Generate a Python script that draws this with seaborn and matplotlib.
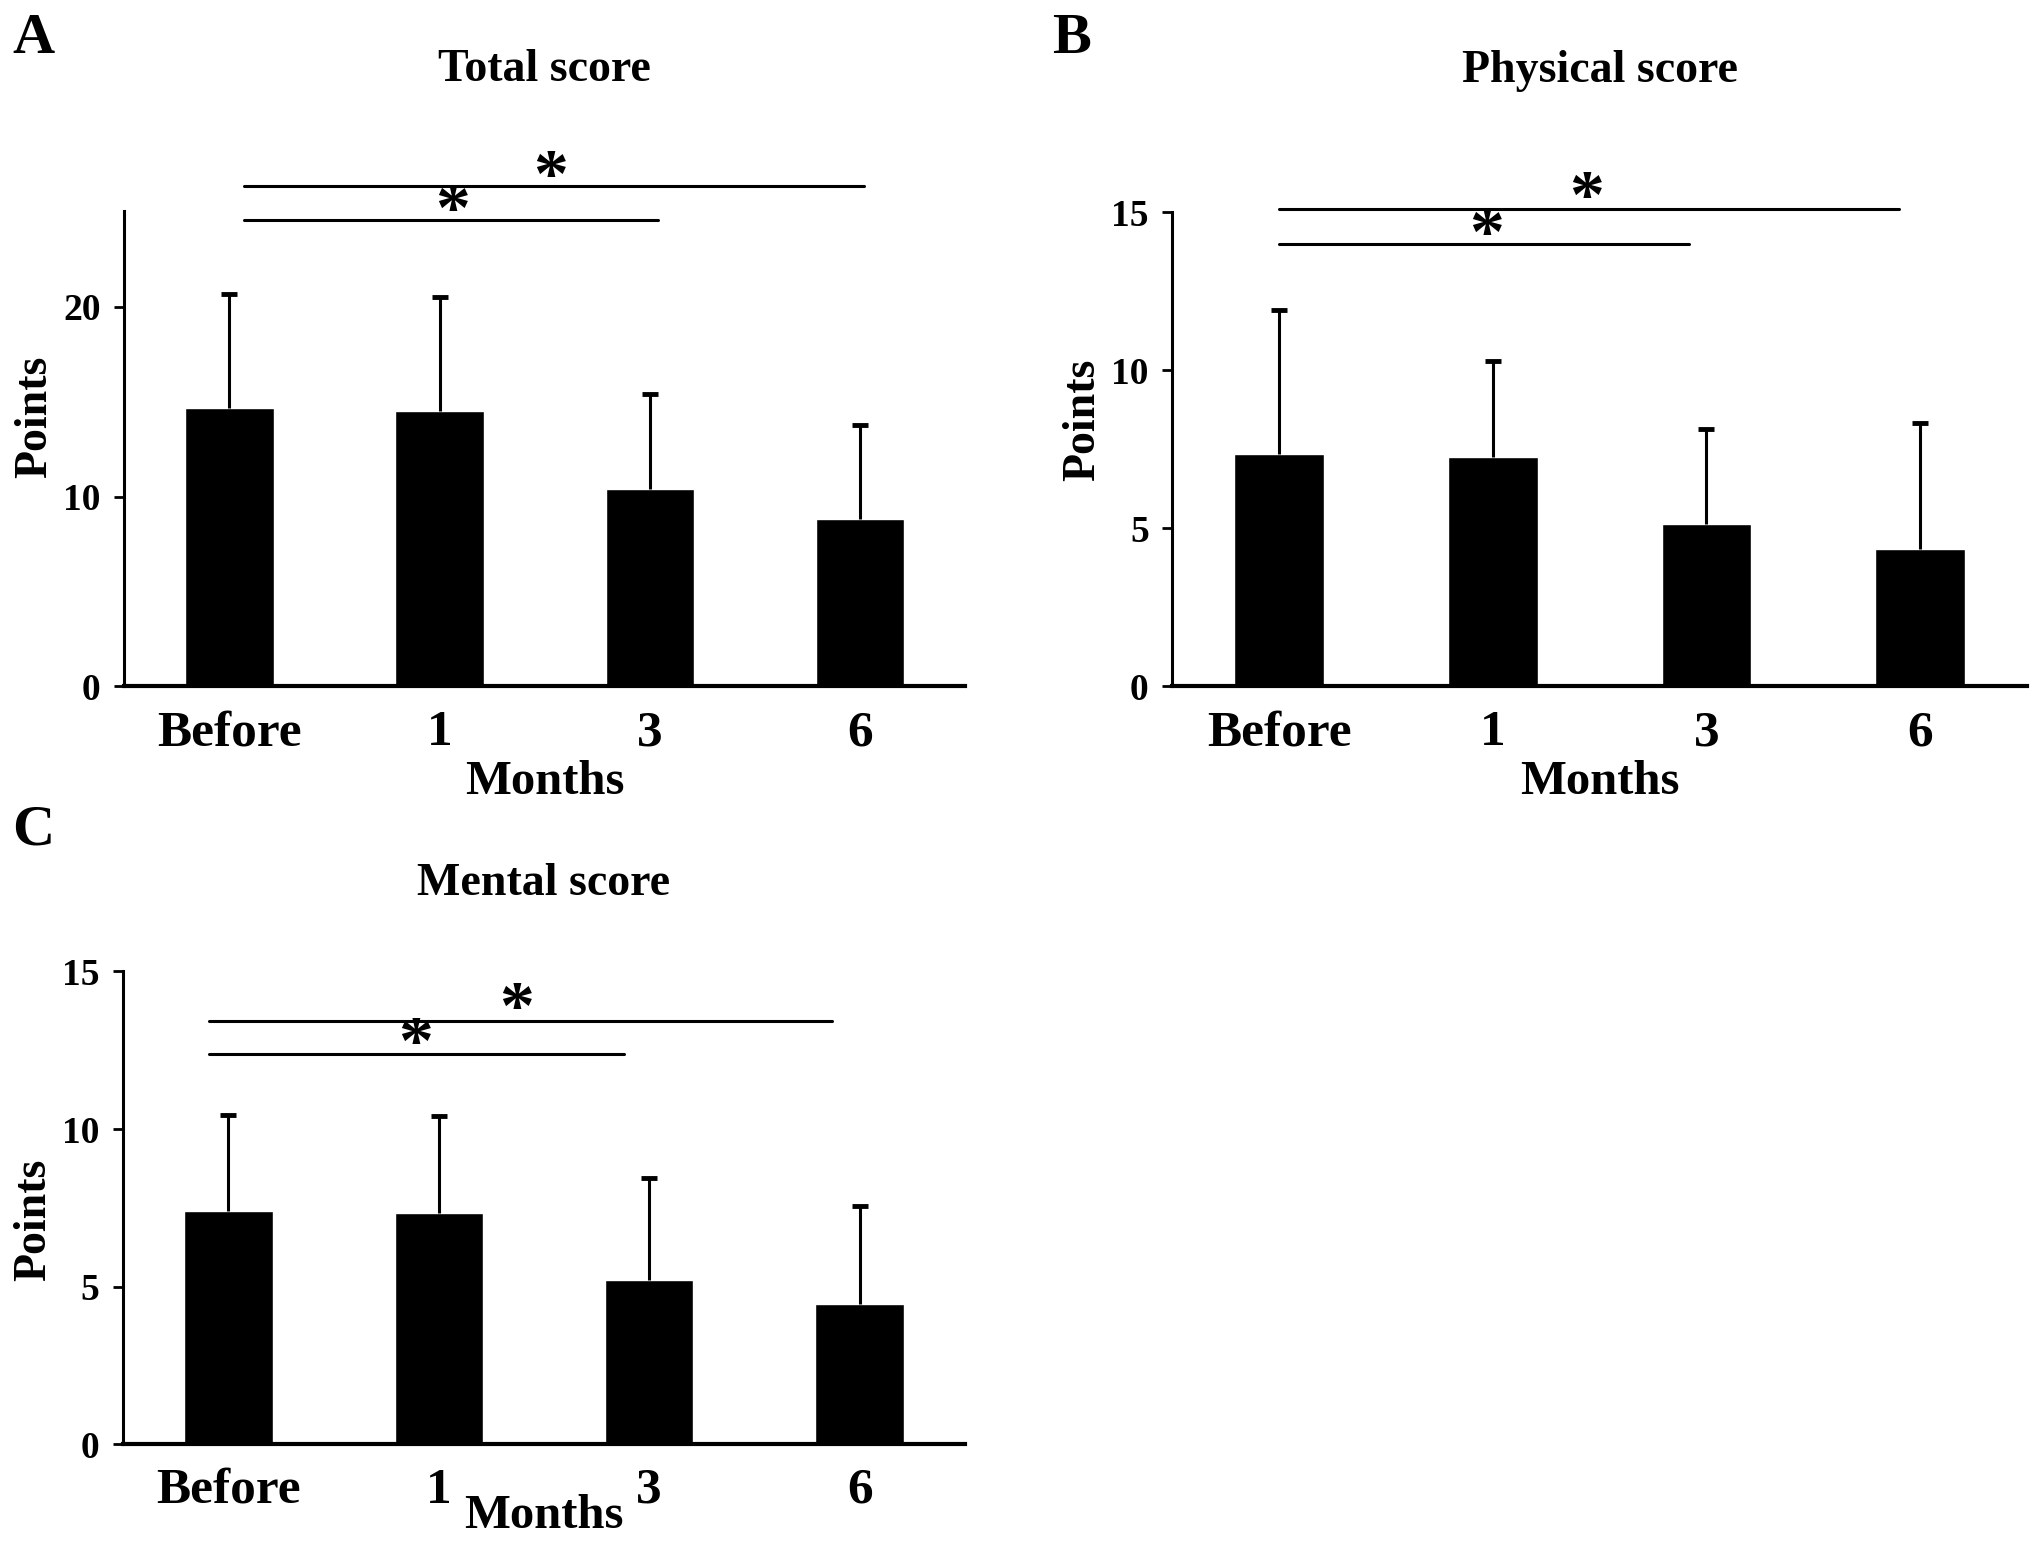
import numpy as np
import pandas as pd
import matplotlib.pyplot as plt
import seaborn as sns

# data (mean and upper SD)
months = ["Before", "1", "3", "6"]

total_mean = [14.7, 14.5, 10.4, 8.8]
total_sd = [6.0, 6.0, 5.0, 5.0]

physical_mean = [7.35, 7.25, 5.15, 4.35]
physical_sd = [4.55, 3.05, 3.0, 4.0]

mental_mean = [7.4, 7.35, 5.2, 4.45]
mental_sd = [3.05, 3.05, 3.25, 3.1]

titles = ["Total score", "Physical score", "Mental score"]
panel_letters = ["A", "B", "C"]
y_ticks = [[0, 10, 20], [0, 5, 10, 15], [0, 5, 10, 15]]

sns.set_style("white", {"axes.edgecolor": "black", "text.color": "black",
                        "axes.labelcolor": "black", "xtick.color": "black",
                        "ytick.color": "black"})
plt.rcParams['font.family'] = ['Liberation Serif', 'DejaVu Serif']
plt.rcParams['font.weight'] = 'bold'

fig = plt.figure(figsize=(20.31, 15.63), dpi=100)

# axes boxes [left, bottom, width, height]
boxes = [[0.0612, 0.5608, 0.4139, 0.3041],
         [0.5772, 0.5608, 0.4208, 0.3033],
         [0.0606, 0.0760, 0.4145, 0.3025]]
ylims = [25.05, 15.0, 15.0]
# significance bars: (x0, x1, y, star_x, star_y)
sig = [[(0.07, 2.04, 24.6, 1.06, 24.9), (0.07, 3.02, 26.35, 1.53, 26.7)],
       [(0.0, 1.92, 14.0, 0.97, 14.2), (0.0, 2.9, 15.1, 1.44, 15.35)],
       [(-0.09, 1.88, 12.37, 0.89, 12.6), (-0.09, 2.87, 13.44, 1.37, 13.7)]]
letter_pos = [(0.006, 0.992), (0.518, 0.992), (0.006, 0.485)]
title_pad = [94, 94, 55]
ylabel_y = [0.567, 0.563, 0.474]
xlabel_pad = [3, 3, -14]

series = [(total_mean, total_sd), (physical_mean, physical_sd), (mental_mean, mental_sd)]

for i, (mean, sd) in enumerate(series):
    ax = fig.add_axes(boxes[i])
    df = pd.DataFrame({"Months": months, "Points": mean, "SD": sd})
    sns.barplot(data=df, x="Months", y="Points", color="black", width=0.42,
                saturation=1, ax=ax, errorbar=None)
    xs = np.arange(len(months))
    top = df["Points"] + df["SD"]
    # one-sided (upper) error bars with a cap only at the top
    ax.vlines(xs, df["Points"], top, color="black", lw=2.2)
    ax.plot(xs, top, ls="none", marker="_", markersize=12, markeredgewidth=3.5,
            color="black")
    ax.set_xlim(-0.5, 3.5)
    ax.set_ylim(0, ylims[i])
    ax.set_yticks(y_ticks[i])
    sns.despine(ax=ax)
    ax.spines["left"].set_linewidth(2.2)
    ax.spines["bottom"].set_linewidth(3.0)
    ax.tick_params(axis="y", length=7, width=2, labelsize=27, pad=10, left=True)
    ax.tick_params(axis="x", length=0, labelsize=37, pad=17)
    for lab in ax.get_xticklabels() + ax.get_yticklabels():
        lab.set_fontweight("bold")
    ax.set_ylabel("Points", fontsize=33, fontweight="bold", labelpad=5)
    ax.yaxis.label.set_y(ylabel_y[i])
    ax.set_xlabel("Months", fontsize=35, fontweight="bold", labelpad=xlabel_pad[i])
    ax.set_title(titles[i], fontsize=33, fontweight="bold", pad=title_pad[i])
    for x0, x1, y, sx, sy in sig[i]:
        ax.plot([x0, x1], [y, y], color="black", lw=2.2, clip_on=False)
        ax.text(sx, sy, "*", fontsize=50, fontweight="bold", ha="center",
                va="center", clip_on=False)
    fig.text(letter_pos[i][0], letter_pos[i][1], panel_letters[i], fontsize=42,
             fontweight="bold", ha="left", va="top")

fig.savefig("out.png", dpi=100, facecolor="white")
